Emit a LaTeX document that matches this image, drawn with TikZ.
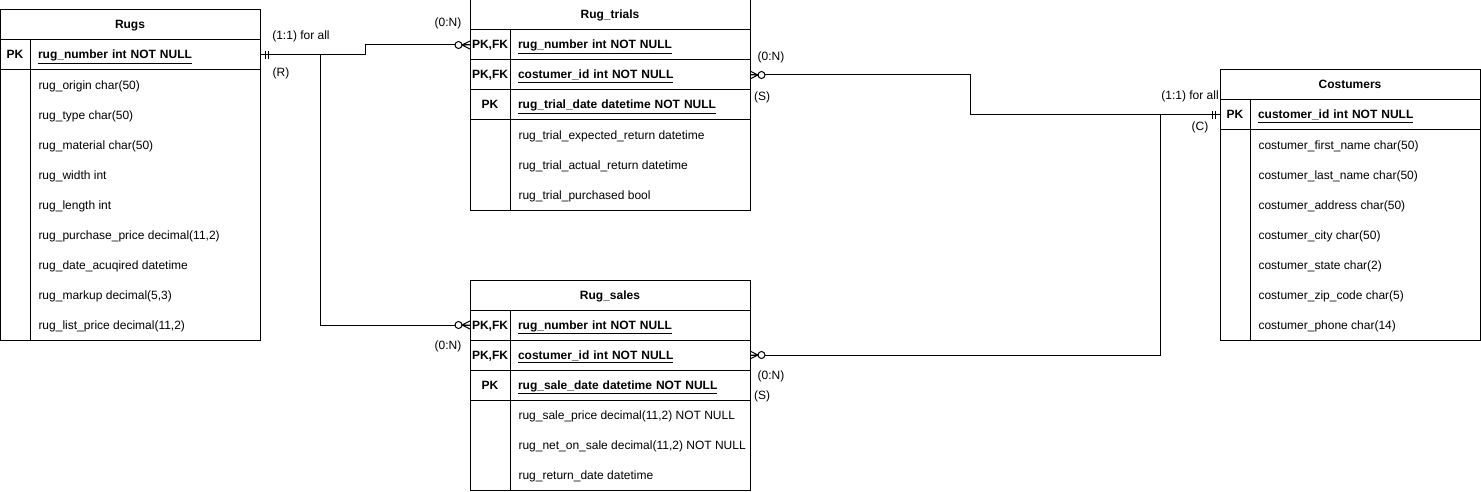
\documentclass[tikz,border=0pt]{standalone}
\usepackage{fontspec}
\setmainfont{Liberation Sans}
\usetikzlibrary{positioning}

\tikzset{
  tblhead/.style={draw, minimum height=30pt, inner sep=0pt, outer sep=0pt, text height=9pt, text depth=1pt, anchor=north west, font=\fontsize{12pt}{14pt}\selectfont\bfseries},
  keycell/.style={draw, minimum height=30pt, inner sep=0pt, outer sep=0pt, text height=9pt, text depth=1pt, font=\fontsize{12pt}{14pt}\selectfont\bfseries},
  keyfield/.style={draw, minimum height=30pt, inner xsep=8pt, inner ysep=0pt, outer sep=0pt, text height=9pt, text depth=1pt, align=left, font=\fontsize{12pt}{14pt}\selectfont\bfseries},
  plainfield/.style={anchor=west, inner sep=0pt, font=\fontsize{12pt}{14pt}\selectfont},
  lbl/.style={inner sep=0pt, font=\fontsize{12pt}{14pt}\selectfont},
  pics/zeromany/.style={code={
    \draw (-8,0) -- (0,-4) (-8,0) -- (0,0) (-8,0) -- (0,4);
    \draw[fill=white] (-11.5,0) circle (3.5);
  }},
  pics/onlyone/.style={code={
    \draw (-5,-4) -- (-5,4) (-8,-4) -- (-8,4);
  }}
}

\begin{document}
\begin{tikzpicture}[x=1pt, y=-1pt, line width=1pt]
  \useasboundingbox (0,0) rectangle (1481,492);

  % Rugs
  \node[tblhead, minimum width=260pt] (rugs) at (0,10) {Rugs};
  \node[keycell, minimum width=30pt, below right=0pt and 0pt of rugs.south west] (rugs_pkkey) {PK};
  \node[keyfield, text width=214pt, right=0pt of rugs_pkkey] (rugs_pkfield) {\underline{rug\_number int NOT NULL}};
  \foreach \txt [count=\i] in {rug\_origin char(50), rug\_type char(50), rug\_material char(50), rug\_width int, rug\_length int, {rug\_purchase\_price decimal(11,2)}, rug\_date\_acuqired datetime, {rug\_markup decimal(5,3)}, {rug\_list\_price decimal(11,2)}}
    \node[plainfield] (rugs_row\i) at (38,56+30*\i) {\txt};
  \draw (0,10) rectangle (260,340);
  \draw (rugs_pkkey.south east) -- (30,340);

  % Rug_trials
  \node[tblhead, minimum width=280pt] (trials) at (470,0) {Rug\_trials};
  \node[keycell, minimum width=40pt, below right=0pt and 0pt of trials.south west] (trials_rugkey) {PK,FK};
  \node[keyfield, text width=224pt, right=0pt of trials_rugkey] (trials_rugfield) {\underline{rug\_number int NOT NULL}};
  \node[keycell, minimum width=40pt, below=0pt of trials_rugkey] (trials_custkey) {PK,FK};
  \node[keyfield, text width=224pt, right=0pt of trials_custkey] (trials_custfield) {\underline{costumer\_id int NOT NULL}};
  \node[keycell, minimum width=40pt, below=0pt of trials_custkey] (trials_datekey) {PK};
  \node[keyfield, text width=224pt, right=0pt of trials_datekey] (trials_datefield) {\underline{rug\_trial\_date datetime NOT NULL}};
  \foreach \txt [count=\i] in {rug\_trial\_expected\_return datetime, rug\_trial\_actual\_return datetime, rug\_trial\_purchased bool}
    \node[plainfield] (trials_row\i) at (518,106+30*\i) {\txt};
  \draw (470,0) rectangle (750,210);
  \draw (trials_datekey.south east) -- (510,210);

  % Rug_sales
  \node[tblhead, minimum width=280pt] (sales) at (470,280) {Rug\_sales};
  \node[keycell, minimum width=40pt, below right=0pt and 0pt of sales.south west] (sales_rugkey) {PK,FK};
  \node[keyfield, text width=224pt, right=0pt of sales_rugkey] (sales_rugfield) {\underline{rug\_number int NOT NULL}};
  \node[keycell, minimum width=40pt, below=0pt of sales_rugkey] (sales_custkey) {PK,FK};
  \node[keyfield, text width=224pt, right=0pt of sales_custkey] (sales_custfield) {\underline{costumer\_id int NOT NULL}};
  \node[keycell, minimum width=40pt, below=0pt of sales_custkey] (sales_datekey) {PK};
  \node[keyfield, text width=224pt, right=0pt of sales_datekey] (sales_datefield) {\underline{rug\_sale\_date datetime NOT NULL}};
  \foreach \txt [count=\i] in {{rug\_sale\_price decimal(11,2) NOT NULL}, {rug\_net\_on\_sale decimal(11,2) NOT NULL}, rug\_return\_date datetime}
    \node[plainfield] (sales_row\i) at (518,386+30*\i) {\txt};
  \draw (470,280) rectangle (750,490);
  \draw (sales_datekey.south east) -- (510,490);

  % Costumers
  \node[tblhead, minimum width=260pt] (cust) at (1220,70) {Costumers};
  \node[keycell, minimum width=30pt, below right=0pt and 0pt of cust.south west] (cust_pkkey) {PK};
  \node[keyfield, text width=214pt, right=0pt of cust_pkkey] (cust_pkfield) {\underline{customer\_id int NOT NULL}};
  \foreach \txt [count=\i] in {costumer\_first\_name char(50), costumer\_last\_name char(50), costumer\_address char(50), costumer\_city char(50), costumer\_state char(2), costumer\_zip\_code char(5), costumer\_phone char(14)}
    \node[plainfield] (cust_row\i) at (1258,116+30*\i) {\txt};
  \draw (1220,70) rectangle (1480,340);
  \draw (cust_pkkey.south east) -- (1250,340);

  % relations
  \coordinate (rugsjoin) at ([xshift=60pt]rugs_pkfield.east);
  \coordinate (custjoin) at ([xshift=-60pt]cust_pkkey.west);
  \draw (rugs_pkfield.east) -- ++(105,0) |- (trials_rugkey.west);
  \draw (rugsjoin) |- (sales_rugkey.west);
  \draw (trials_custfield.east) -- ++(220,0) |- (cust_pkkey.west);
  \draw (sales_custfield.east) -| (custjoin);

  \pic[rotate=180] at (rugs_pkfield.east) {onlyone};
  \pic at (cust_pkkey.west) {onlyone};
  \pic at (trials_rugkey.west) {zeromany};
  \pic at (sales_rugkey.west) {zeromany};
  \pic[rotate=180] at (trials_custfield.east) {zeromany};
  \pic[rotate=180] at (sales_custfield.east) {zeromany};

  % cardinality labels
  \node[lbl] (lbl_rugs_card) at (301,36) {(1:1) for all};
  \node[lbl] (lbl_rugs_role) at (281,73) {(R)};
  \node[lbl] (lbl_trials_rug) at (448,23) {(0:N)};
  \node[lbl] (lbl_sales_rug) at (448,346) {(0:N)};
  \node[lbl] (lbl_trials_card) at (771,57) {(0:N)};
  \node[lbl] (lbl_trials_role) at (762,97) {(S)};
  \node[lbl] (lbl_sales_card) at (771,376) {(0:N)};
  \node[lbl] (lbl_sales_role) at (762,396) {(S)};
  \node[lbl] (lbl_cust_card) at (1190,96) {(1:1) for all};
  \node[lbl] (lbl_cust_role) at (1200,127) {(C)};
\end{tikzpicture}
\end{document}
